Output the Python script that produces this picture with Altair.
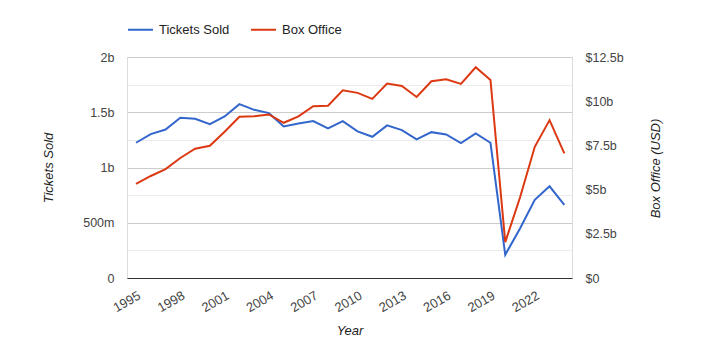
import altair as alt
import pandas as pd

years = list(range(1995, 2025))
tickets_b = [1.224, 1.302, 1.344, 1.450, 1.441, 1.393, 1.462, 1.573, 1.522, 1.492,
             1.372, 1.399, 1.420, 1.354, 1.420, 1.327, 1.278, 1.381, 1.338, 1.254,
             1.320, 1.299, 1.221, 1.308, 1.224, 0.210, 0.448, 0.707, 0.830, 0.662]
box_office_b = [5.32, 5.77, 6.16, 6.79, 7.31, 7.48, 8.27, 9.12, 9.15, 9.25,
                8.78, 9.14, 9.72, 9.74, 10.62, 10.47, 10.13, 11.00, 10.86, 10.24,
                11.13, 11.24, 10.98, 11.92, 11.20, 2.03, 4.55, 7.42, 8.93, 7.05]
series_names = ["Tickets Sold", "Box Office"]
series_colors = ["#3366cc", "#dc3912"]
x_tick_years = [1995, 1998, 2001, 2004, 2007, 2010, 2013, 2016, 2019, 2022]
left_ticks = [0, 0.25, 0.5, 0.75, 1.0, 1.25, 1.5, 1.75, 2.0]
right_ticks = [0, 2.5, 5, 7.5, 10, 12.5]

df = pd.DataFrame({"year": years, "tickets": tickets_b, "box": box_office_b})

FONT = "Liberation Sans"

x = alt.X(
    "year:Q",
    scale=alt.Scale(domain=[1994.39, 2024.52], nice=False, zero=False),
    axis=alt.Axis(
        values=x_tick_years, format="d", labelAngle=-30, labelAlign="right",
        labelBaseline="top", labelPadding=11, ticks=False, tickSize=0, grid=False,
        domainColor="#333333", domainWidth=1, labelColor="#444444", labelFontSize=13,
        labelFont=FONT, title="Year", titleFontStyle="italic", titleFontWeight="normal",
        titleFont=FONT, titleFontSize=13, titleColor="#222222", titleY=52,
        titleBaseline="middle",
    ),
)

legend = alt.Legend(
    title=None, orient="none", legendX=0, legendY=-41, direction="horizontal",
    symbolType="stroke", symbolSize=625, symbolStrokeWidth=2, labelOffset=5,
    columnPadding=17, labelFont=FONT, labelFontSize=13, labelColor="#222222",
)
color_scale = alt.Scale(domain=series_names, range=series_colors)

tickets = alt.Chart(df).transform_calculate(series="'Tickets Sold'").mark_line(strokeWidth=2).encode(
    x=x,
    y=alt.Y(
        "tickets:Q",
        scale=alt.Scale(domain=[0, 2], nice=False),
        axis=alt.Axis(
            orient="left", values=left_ticks, domain=False, ticks=False, tickSize=0,
            labelPadding=13, labelFont=FONT, labelFontSize=12.5, labelColor="#444444",
            labelExpr="(datum.value*4) % 2 != 0 ? '' : datum.value == 0 ? '0' : datum.value < 1 ? (datum.value*1000) + 'm' : datum.value + 'b'",
            gridColor={"condition": {"test": "(datum.value*4) % 2 != 0", "value": "#ebebeb"}, "value": "#cccccc"},
            title="Tickets Sold", titleFont=FONT, titleFontSize=13, titleFontStyle="italic",
            titleFontWeight="normal", titleColor="#222222", titleAngle=270,
            titleX=-79, titleY=110.5, titleBaseline="middle", titleAlign="center",
        ),
    ),
    color=alt.Color("series:N", scale=color_scale, legend=legend),
)

box = alt.Chart(df).transform_calculate(series="'Box Office'").mark_line(strokeWidth=2).encode(
    x=x,
    y=alt.Y(
        "box:Q",
        scale=alt.Scale(domain=[0, 12.5], nice=False),
        axis=alt.Axis(
            orient="right", values=right_ticks, domain=False, ticks=False, tickSize=0,
            labelPadding=13, labelFont=FONT, labelFontSize=12.5, labelColor="#444444",
            labelExpr="datum.value == 0 ? '$0' : '$' + datum.value + 'b'",
            gridColor="#cccccc",
            title="Box Office (USD)", titleFont=FONT, titleFontSize=13, titleFontStyle="italic",
            titleFontWeight="normal", titleColor="#222222", titleAngle=270,
            titleX=83, titleY=111, titleBaseline="middle", titleAlign="center",
        ),
    ),
    color=alt.Color("series:N", scale=color_scale, legend=legend),
)

chart = alt.layer(tickets, box).resolve_scale(y="independent").properties(
    width=445, height=221,
    autosize=alt.AutoSizeParams(type="none"),
    padding={"left": 127, "top": 57, "right": 129, "bottom": 79},
).configure_view(stroke=None).configure(background="white")

chart.save("out.html", embed_options={"renderer": "svg", "actions": False})
